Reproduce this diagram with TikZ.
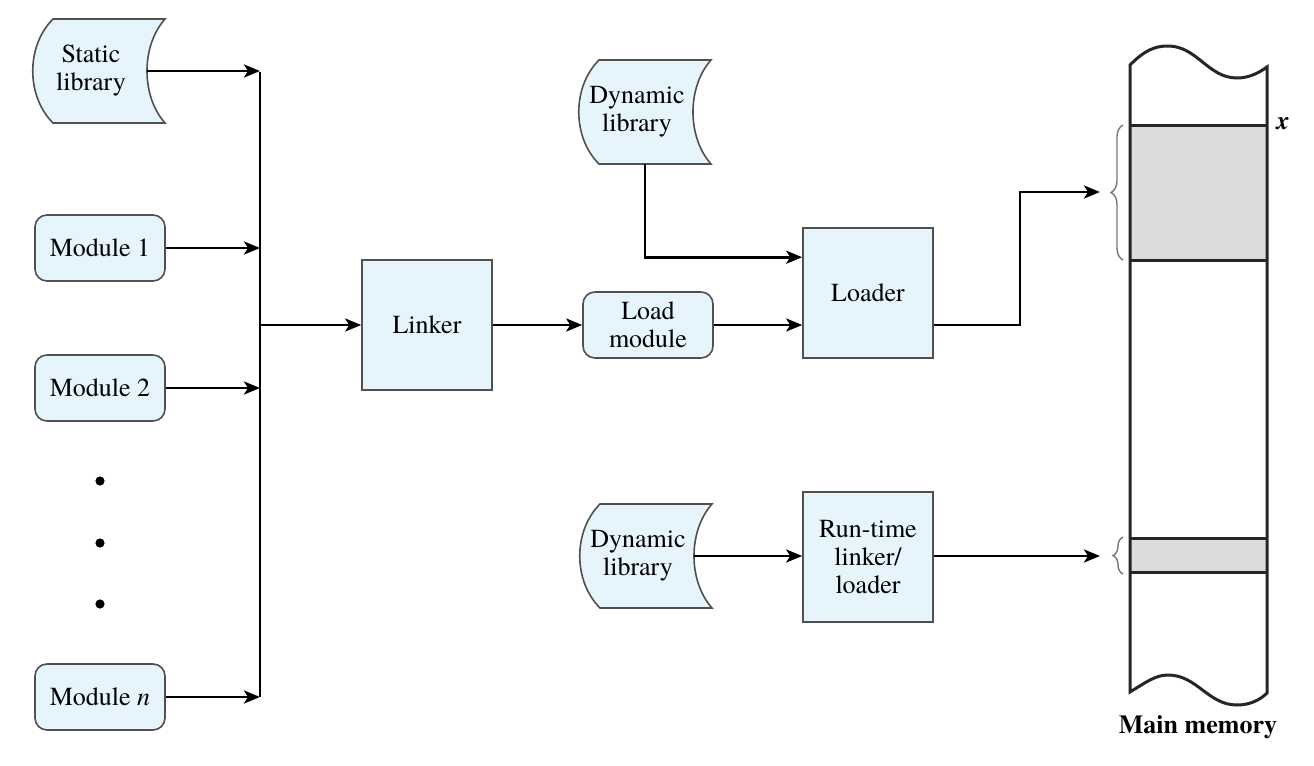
\documentclass[tikz,border=0pt]{standalone}
\usepackage{fontspec}
\IfFontExistsTF{texgyretermes-regular.otf}{%
  \setmainfont{texgyretermes}[Extension=.otf,UprightFont=*-regular,BoldFont=*-bold,ItalicFont=*-italic,BoldItalicFont=*-bolditalic]}{%
  \setmainfont{Liberation Serif}}
\usetikzlibrary{arrows.meta,decorations.pathreplacing,calc}
\definecolor{libblue}{HTML}{E6F4FC}
\definecolor{edgegray}{HTML}{505050}
\definecolor{memgray}{HTML}{DCDCDC}
\definecolor{bracegray}{HTML}{777777}
\newcommand{\fs}{\fontsize{13pt}{14pt}\selectfont}
\tikzset{
  shapeline/.style={draw=edgegray, line width=0.8pt, fill=libblue},
  procbox/.style={shapeline, rectangle, minimum width=65pt, minimum height=65pt, align=center, font=\fs, inner sep=2pt},
  modbox/.style={shapeline, rounded corners=6pt, minimum width=65pt, minimum height=33pt, align=center, font=\fs, inner sep=2pt},
  conn/.style={line width=1.4pt, -{Stealth[length=8pt,width=6.5pt,inset=2pt]}},
  busline/.style={line width=1.4pt},
  memline/.style={line width=1.5pt, draw=black!85},
  bracestyle/.style={draw=bracegray, line width=0.7pt, decorate},
  lib/.pic={
    \path[shapeline] (-56,-52) -- (56,-52) .. controls (32,-25) and (32,25) .. (56,52)
      -- (-56,52) .. controls (-83,25) and (-83,-25) .. (-56,-52) -- cycle;
    \node[align=center, inner sep=0pt, font=\fs] (-t) at (-18,0) {#1};
    \coordinate (-out) at (38,0);
    \coordinate (-b) at (-10,52);
  }
}
\begin{document}
\begin{tikzpicture}[x=0.5pt,y=-0.5pt]
\useasboundingbox (0,0) rectangle (1314,766);

% left column
\pic (sl) at (109,71) {lib={Static\\library}};
\node[modbox] (m1) at (100,248) {Module 1};
\node[modbox] (m2) at (100,388) {Module 2};
\node[modbox] (mn) at (100,697) {Module \textit{n}};
\fill (100,481) circle (2.3pt);
\fill (100,543) circle (2.3pt);
\fill (100,604) circle (2.3pt);

\coordinate (bustop) at (260,72);
\coordinate (busbot) at (260,697);
\draw[busline] (bustop) -- (busbot);
\draw[conn] (sl-out) -- (sl-out -| bustop);
\draw[conn] (m1.east) -- (m1.east -| bustop);
\draw[conn] (m2.east) -- (m2.east -| bustop);
\draw[conn] (mn.east) -- (mn.east -| bustop);

% middle
\node[procbox] (linker) at (427,325) {Linker};
\node[modbox] (load) at (648,325) {Load\\module};
\node[procbox] (loader) at (868,293) {Loader};
\pic (dla) at (655,112) {lib={Dynamic\\library}};
\pic (dlb) at (656,556) {lib={Dynamic\\library}};
\node[procbox] (rt) at (868,557) {Run-time\\linker/\\loader};

\draw[conn] (linker.west -| bustop) -- (linker.west);
\draw[conn] (linker.east) -- (load.west);
\draw[conn] (load.east) -- (load.east -| loader.west);
\draw[conn] (dla-b) |- ([yshift=-15pt]loader.north west);
\draw[conn] (dlb-out) -- (dlb-out -| rt.west);

% memory
\coordinate (memtop) at (1100,192);
\coordinate (membot) at (1100,556);
\coordinate (bendx) at (1020,0);
\draw[conn] (loader.east |- load) -| (bendx |- memtop) -- (memtop);
\draw[conn] (rt.east |- membot) -- (membot);

\fill[memgray] (1130,125) rectangle (1267,260);
\fill[memgray] (1130,538) rectangle (1267,572);
\draw[memline] (1130,65) .. controls (1145,50) and (1155,46) .. (1168,46)
  .. controls (1197,46) and (1208,78) .. (1237,78)
  .. controls (1250,78) and (1260,72) .. (1267,67)
  -- (1267,693)
  .. controls (1260,700) and (1250,705) .. (1237,705)
  .. controls (1208,705) and (1197,675) .. (1168,675)
  .. controls (1155,675) and (1145,683) .. (1130,692) -- cycle;
\draw[memline] (1130,125) -- (1267,125);
\draw[memline] (1130,260) -- (1267,260);
\draw[memline] (1130,538) -- (1267,538);
\draw[memline] (1130,572) -- (1267,572);

\draw[bracestyle, decoration={brace, amplitude=6pt}] (1123,260) -- (1123,125);
\draw[bracestyle, decoration={brace, amplitude=5pt}] (1123,574) -- (1123,537);

\node[font=\fs\bfseries\itshape] (xlab) at (1283,124) {x};
\node[font=\fs\bfseries] (mainmem) at (1198,727) {Main memory};
\end{tikzpicture}
\end{document}
